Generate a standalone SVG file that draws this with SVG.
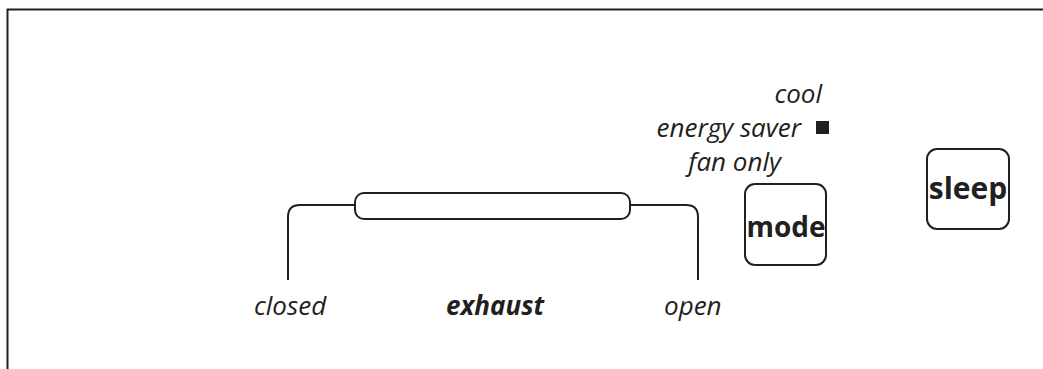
<svg xmlns="http://www.w3.org/2000/svg" width="1043" height="369" viewBox="0 0 1043 369">
<style>
.ln{fill:none;stroke:#231f20;stroke-width:2}
.it{font-family:"Open Sans","Noto Sans",sans-serif;font-style:italic;font-size:26px;fill:#231f20}
.bd{font-family:"Open Sans","Noto Sans",sans-serif;font-weight:bold;font-size:27px;fill:#231f20;text-anchor:middle}
</style>
<rect width="1043" height="369" fill="#fff"/>
<path class="ln" d="M7.5,369 V9.5 H1043"/>
<g id="connectors">
<path class="ln" d="M288,280 V217 Q288,205 300,205 H355"/>
<path class="ln" d="M630,205 H686 Q698,205 698,217 V280"/>
</g>
<g id="slider">
<rect class="ln" x="355" y="193" width="275" height="26" rx="9"/>
</g>
<g id="labels">
<text class="it" x="254" y="315">closed</text>
<text class="it" x="446" y="315" style="font-weight:bold">exhaust</text>
<text class="it" x="664" y="315">open</text>
<text class="it" x="822" y="103" text-anchor="end">cool</text>
<text class="it" x="801" y="137" text-anchor="end">energy saver</text>
<rect x="816" y="121" width="13" height="13" fill="#231f20"/>
<text class="it" x="781" y="171" text-anchor="end">fan only</text>
</g>
<g id="mode">
<rect class="ln" x="745" y="184" width="81" height="81" rx="10"/>
<text class="bd" x="786" y="237" style="font-size:28px">mode</text>
</g>
<g id="sleep">
<rect class="ln" x="927" y="149" width="82" height="80" rx="10"/>
<text class="bd" x="968" y="199" style="font-size:30px">sleep</text>
</g>
</svg>
